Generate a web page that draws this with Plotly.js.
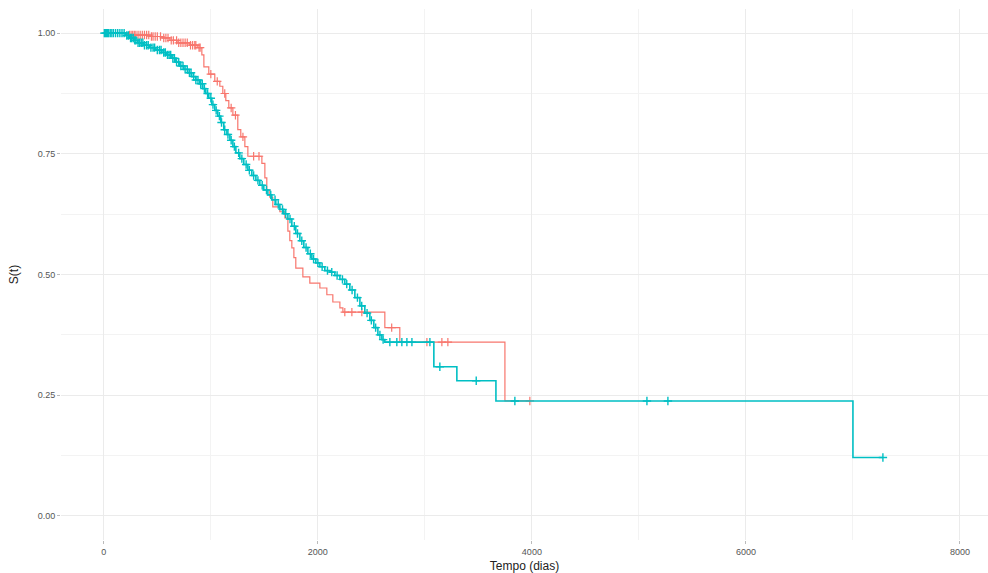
<!DOCTYPE html>
<html>
<head>
<meta charset="utf-8">
<script src="https://cdn.plot.ly/plotly-3.0.1.min.js"></script>
<style>html,body{margin:0;padding:0;background:#fff;overflow:hidden}#chart{width:988px;height:573px}</style>
</head>
<body>
<div id="chart"></div>
<script>
// Kaplan-Meier steps, group 1 (red): time (days) and survival after each event
const redTime = [0, 224, 430, 542, 617, 692, 804, 878, 916, 935, 981, 1037, 1084, 1112, 1140, 1168, 1206, 1252, 1280, 1318, 1346, 1477, 1505, 1523, 1551, 1579, 1645, 1692, 1720, 1738, 1757, 1776, 1794, 1860, 1925, 2019, 2084, 2140, 2206, 2234, 2626, 2766, 3748, 3981];
const redSurv = [1.0, 0.996, 0.993, 0.99, 0.985, 0.98, 0.975, 0.97, 0.955, 0.93, 0.915, 0.90, 0.89, 0.875, 0.86, 0.845, 0.83, 0.80, 0.785, 0.765, 0.745, 0.73, 0.70, 0.675, 0.66, 0.64, 0.63, 0.617, 0.59, 0.57, 0.555, 0.535, 0.513, 0.495, 0.482, 0.472, 0.458, 0.443, 0.431, 0.422, 0.39, 0.36, 0.238, 0.238];
const redCensor = [240, 255, 270, 285, 300, 320, 340, 360, 380, 400, 420, 445, 460, 480, 500, 530, 560, 580, 600, 630, 650, 680, 700, 720, 740, 760, 780, 810, 830, 850, 860, 890, 900, 1000, 1060, 1130, 1190, 1230, 1300, 1400, 1450, 2252, 2318, 2411, 2690, 3019, 3159, 3215, 3981];

// group 2 (teal)
const tealTime = [0, 206, 243, 280, 318, 374, 430, 486, 542, 589, 636, 673, 710, 748, 785, 822, 860, 897, 925, 953, 981, 1009, 1037, 1065, 1093, 1121, 1150, 1178, 1206, 1234, 1271, 1308, 1346, 1383, 1421, 1458, 1495, 1533, 1570, 1607, 1645, 1682, 1720, 1757, 1794, 1832, 1869, 1907, 1944, 1981, 2019, 2065, 2112, 2159, 2206, 2252, 2299, 2346, 2393, 2439, 2486, 2523, 2561, 2598, 2626, 3084, 3299, 3664, 7000, 7280];
const tealSurv = [1.0, 0.995, 0.99, 0.985, 0.98, 0.975, 0.97, 0.965, 0.96, 0.955, 0.948, 0.94, 0.932, 0.925, 0.918, 0.91, 0.903, 0.895, 0.885, 0.875, 0.865, 0.852, 0.84, 0.828, 0.815, 0.80, 0.79, 0.778, 0.765, 0.752, 0.74, 0.728, 0.716, 0.705, 0.695, 0.685, 0.675, 0.665, 0.655, 0.645, 0.635, 0.626, 0.615, 0.60, 0.585, 0.57, 0.556, 0.543, 0.532, 0.524, 0.516, 0.508, 0.505, 0.498, 0.49, 0.48, 0.468, 0.452, 0.435, 0.42, 0.405, 0.39, 0.375, 0.365, 0.36, 0.309, 0.28, 0.238, 0.121, 0.121];
const tealCensor = [5, 15, 25, 35, 45, 60, 75, 90, 110, 130, 150, 170, 190, 215, 230, 250, 260, 275, 290, 300, 320, 335, 350, 365, 380, 400, 415, 440, 460, 475, 500, 520, 535, 560, 575, 595, 610, 625, 645, 660, 680, 700, 720, 740, 760, 780, 800, 815, 840, 860, 880, 905, 920, 940, 970, 1000, 1020, 1050, 1080, 1100, 1130, 1160, 1190, 1220, 1260, 1290, 1330, 1360, 1400, 1440, 1480, 1520, 1560, 1600, 1630, 1670, 1700, 1740, 1780, 1810, 1850, 1890, 1930, 1960, 2000, 2040, 2090, 2130, 2180, 2230, 2270, 2320, 2370, 2410, 2460, 2500, 2540, 2580, 2610, 2673, 2738, 2785, 2832, 2879, 3047, 3140, 3480, 3841, 5075, 5271, 7280];

const xTicks = [0, 2000, 4000, 6000, 8000];
const yTicks = [0, 0.25, 0.5, 0.75, 1.0];
const yTickText = ['0.00', '0.25', '0.50', '0.75', '1.00'];

function survAt(times, surv, t) {
  let s = surv[0];
  for (let i = 0; i < times.length; i++) { if (times[i] <= t) s = surv[i]; else break; }
  return s;
}

const RED = '#F8766D', TEAL = '#00BFC4';
const traces = [
  {x: redTime, y: redSurv, type: 'scatter', mode: 'lines', line: {color: RED, width: 1.2, shape: 'hv'}, hoverinfo: 'skip'},
  {x: redCensor, y: redCensor.map(t => survAt(redTime, redSurv, t)), type: 'scatter', mode: 'markers',
   marker: {symbol: 'cross-thin', size: 6, line: {color: RED, width: 1.2}}},
  {x: tealTime, y: tealSurv, type: 'scatter', mode: 'lines', line: {color: TEAL, width: 1.6, shape: 'hv'}, hoverinfo: 'skip'},
  {x: tealCensor, y: tealCensor.map(t => survAt(tealTime, tealSurv, t)), type: 'scatter', mode: 'markers',
   marker: {symbol: 'cross-thin', size: 6, line: {color: TEAL, width: 1.4}}}
];

const layout = {
  width: 988, height: 573,
  margin: {l: 61, r: 0, t: 9, b: 33},
  paper_bgcolor: '#fff', plot_bgcolor: '#fff',
  showlegend: false,
  font: {family: 'Liberation Sans, Arial, sans-serif', color: '#4d4d4d'},
  xaxis: {
    range: [-400, 8262], tickvals: xTicks, ticktext: xTicks.map(String),
    ticks: 'outside', ticklen: 3, tickcolor: '#bbbbbb', tickwidth: 1,
    tickfont: {size: 9, color: '#555'},
    showgrid: true, gridcolor: '#ebebeb', gridwidth: 1,
    minor: {dtick: 1000, tick0: 0, showgrid: true, gridcolor: '#f3f3f3', gridwidth: 1},
    zeroline: false, showline: false,
    title: {text: 'Tempo (dias)', font: {size: 12, color: '#222'}, standoff: 5}
  },
  yaxis: {
    range: [-0.05, 1.05], tickvals: yTicks, ticktext: yTickText,
    ticks: 'outside', ticklen: 3, tickcolor: '#bbbbbb', tickwidth: 1,
    tickfont: {size: 9, color: '#555'},
    showgrid: true, gridcolor: '#ebebeb', gridwidth: 1,
    minor: {dtick: 0.125, tick0: 0, showgrid: true, gridcolor: '#f3f3f3', gridwidth: 1},
    zeroline: false, showline: false,
    title: {text: 'S(t)', font: {size: 12, color: '#222'}, standoff: 16}
  }
};

Plotly.newPlot('chart', traces, layout, {displayModeBar: false, staticPlot: true});
</script>
</body>
</html>
